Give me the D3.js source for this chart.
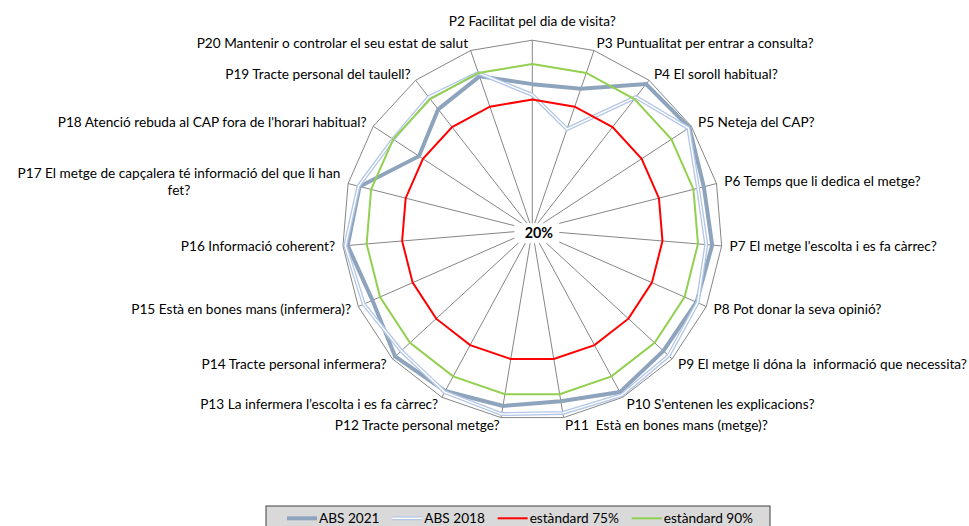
<!DOCTYPE html>
<html>
<head>
<meta charset="utf-8">
<script src="https://cdn.jsdelivr.net/npm/d3@7"></script>
<style>
  html, body { margin: 0; padding: 0; background: #ffffff; }
  svg { display: block; }
  text { font-family: Lato, "Open Sans", "Noto Sans", sans-serif; fill: #000; white-space: pre; }
</style>
</head>
<body>
<svg id="chart" width="969" height="526"></svg>
<script>
// ---------- data ----------
const categories = [
  "P2 Facilitat pel dia de visita?",
  "P3 Puntualitat per entrar a consulta?",
  "P4 El soroll habitual?",
  "P5 Neteja del CAP?",
  "P6 Temps que li dedica el metge?",
  "P7 El metge l'escolta i es fa càrrec?",
  "P8 Pot donar la seva opinió?",
  "P9 El metge li dóna la  informació que necessita?",
  "P10 S'entenen les explicacions?",
  "P11  Està en bones mans (metge)?",
  "P12 Tracte personal metge?",
  "P13 La infermera l’escolta i es fa càrrec?",
  "P14 Tracte personal infermera?",
  "P15 Està en bones mans (infermera)?",
  "P16 Informació coherent?",
  "P17 El metge de capçalera té informació del que li han fet?",
  "P18 Atenció rebuda al CAP fora de l'horari habitual?",
  "P19 Tracte personal del taulell?",
  "P20 Mantenir o controlar el seu estat de salut"
];
const abs2021 = [81.5, 83, 98, 99, 94.5, 96, 95.5, 95, 97.5, 93, 95, 97, 98.5, 93.5, 98, 95, 77, 84.5, 88.5];
const abs2018 = [77, 65, 91, 98.5, 92, 93.5, 96, 98, 99, 98, 98.5, 97.5, 95, 97.5, 99, 95.5, 90, 91, 90];
const std75 = [75, 75, 75, 75, 75, 75, 75, 75, 75, 75, 75, 75, 75, 75, 75, 75, 75, 75, 75];
const std90 = [90, 90, 90, 90, 90, 90, 90, 90, 90, 90, 90, 90, 90, 90, 90, 90, 90, 90, 90];
const axisMin = 20, axisMax = 100;
const centerLabel = "20%";
const seriesNames = ["ABS 2021", "ABS 2018", "estàndard 75%", "estàndard 90%"];

// ---------- layout ----------
const svg = d3.select("#chart");
const cx = 532.3, cy = 230.2, R = 190;
const n = categories.length;
const r = d3.scaleLinear().domain([axisMin, axisMax]).range([0, R]);
const angle = d3.scalePoint().domain(d3.range(n + 1)).range([0, 2 * Math.PI]);

// fit font size so text metrics resemble the original (Calibri 10pt)
const probe = svg.append("text").attr("font-size", 20).text(categories[0]);
const fs = 20 * 167 / probe.node().getComputedTextLength();
probe.remove();

const g = svg.append("g").attr("transform", `translate(${cx},${cy})`);

const line = d3.lineRadial()
  .angle((d, i) => angle(i))
  .radius(d => r(d))
  .curve(d3.curveLinearClosed);

// spokes
g.selectAll("line.spoke").data(categories).enter().append("line")
  .attr("class", "spoke")
  .attr("x1", 0).attr("y1", 0)
  .attr("x2", (d, i) => r(axisMax) * Math.sin(angle(i)))
  .attr("y2", (d, i) => -r(axisMax) * Math.cos(angle(i)))
  .attr("stroke", "#868686").attr("stroke-width", 1);

// outer ring
g.append("path").datum(categories.map(() => axisMax))
  .attr("d", line).attr("fill", "none")
  .attr("stroke", "#868686").attr("stroke-width", 1);

// center label with white box
const cl = g.append("g").attr("transform", "translate(2,3)");
cl.append("rect").attr("x", -20).attr("y", -10).attr("width", 45).attr("height", 20).attr("fill", "#fff");
cl.append("text").attr("x", 4.5).attr("y", 0).attr("dy", "0.35em")
  .attr("text-anchor", "middle").attr("font-weight", "bold").attr("font-size", fs * 1.05)
  .text(centerLabel);

// series
g.append("path").datum(abs2021).attr("d", line).attr("fill", "none")
  .attr("stroke", "#8EA4BD").attr("stroke-width", 4).attr("stroke-linejoin", "miter");
g.append("path").datum(abs2018).attr("d", line).attr("fill", "none")
  .attr("stroke", "#B4C7E7").attr("stroke-width", 4).attr("stroke-linejoin", "miter");
g.append("path").datum(abs2018).attr("d", line).attr("fill", "none")
  .attr("stroke", "#ffffff").attr("stroke-width", 1.4).attr("stroke-linejoin", "miter");
g.append("path").datum(std75).attr("d", line).attr("fill", "none")
  .attr("stroke", "#FF0000").attr("stroke-width", 2);
g.append("path").datum(std90).attr("d", line).attr("fill", "none")
  .attr("stroke", "#92D050").attr("stroke-width", 2);

// category labels
categories.forEach((txt, i) => {
  const a = angle(i);
  const s = Math.sin(a), c = Math.cos(a);
  const vx = r(axisMax) * s, vy = -r(axisMax) * c;
  let anchor = "middle", lx = vx, ly = vy;
  if (Math.abs(s) < 0.05) { ly = vy - 19; }
  else {
    anchor = s > 0 ? "start" : "end";
    lx = vx + 8 * s;
    ly = vy - 8 * c;
  }
  const t = g.append("text").attr("font-size", fs).attr("text-anchor", anchor)
    .attr("x", lx).attr("y", ly).attr("dy", "0.35em").text(txt);
  // wrap if overflowing the left edge
  const w = t.node().getComputedTextLength();
  const avail = anchor === "end" ? (cx + lx) - 10 : 9999;
  if (w > avail) {
    t.text(null);
    const words = txt.split(" ");
    const lines = [];
    let cur = "";
    const meas = g.append("text").attr("font-size", fs);
    words.forEach(wd => {
      const test = cur ? cur + " " + wd : wd;
      meas.text(test);
      if (meas.node().getComputedTextLength() > avail && cur) { lines.push(cur); cur = wd; }
      else cur = test;
    });
    lines.push(cur);
    meas.text(lines[0]);
    const maxW = meas.node().getComputedTextLength();
    meas.remove();
    const lh = fs * 1.3;
    t.attr("text-anchor", "middle").attr("x", null).attr("y", null).attr("dy", null);
    lines.forEach((ln, k) => {
      t.append("tspan").attr("x", lx - maxW / 2)
        .attr("y", ly + (k - (lines.length - 1) / 2) * lh)
        .attr("dy", "0.35em").text(ln);
    });
  }
});

// legend
const legendY = 506, legendX0 = 266, legendX1 = 770;
svg.append("rect").attr("x", legendX0).attr("y", legendY).attr("width", legendX1 - legendX0).attr("height", 30)
  .attr("fill", "#D9D9D9").attr("stroke", "#404040").attr("stroke-width", 1);
const legendStyles = [
  [{c: "#8EA4BD", w: 4}],
  [{c: "#B4C7E7", w: 4}, {c: "#ffffff", w: 1.4}],
  [{c: "#FF0000", w: 2}],
  [{c: "#92D050", w: 2}]
];
const lg = svg.append("g");
const items = seriesNames.map((nm, i) => {
  const it = lg.append("g");
  legendStyles[i].forEach(st => {
    it.append("line").attr("x1", 0).attr("x2", 30).attr("y1", 0).attr("y2", 0)
      .attr("stroke", st.c).attr("stroke-width", st.w);
  });
  const tt = it.append("text").attr("x", 32).attr("y", 0).attr("dy", "0.35em").attr("font-size", fs).text(nm);
  return {g: it, w: 32 + tt.node().getComputedTextLength()};
});
const padL = 21, padR = 17;
const sumW = d3.sum(items, d => d.w);
const gap = ((legendX1 - legendX0) - padL - padR - sumW) / (items.length - 1);
let x = 0;
items.forEach(d => { d.g.attr("transform", `translate(${x},0)`); x += d.w + gap; });
lg.attr("transform", `translate(${legendX0 + padL},${legendY + 12.3})`);
</script>
</body>
</html>
